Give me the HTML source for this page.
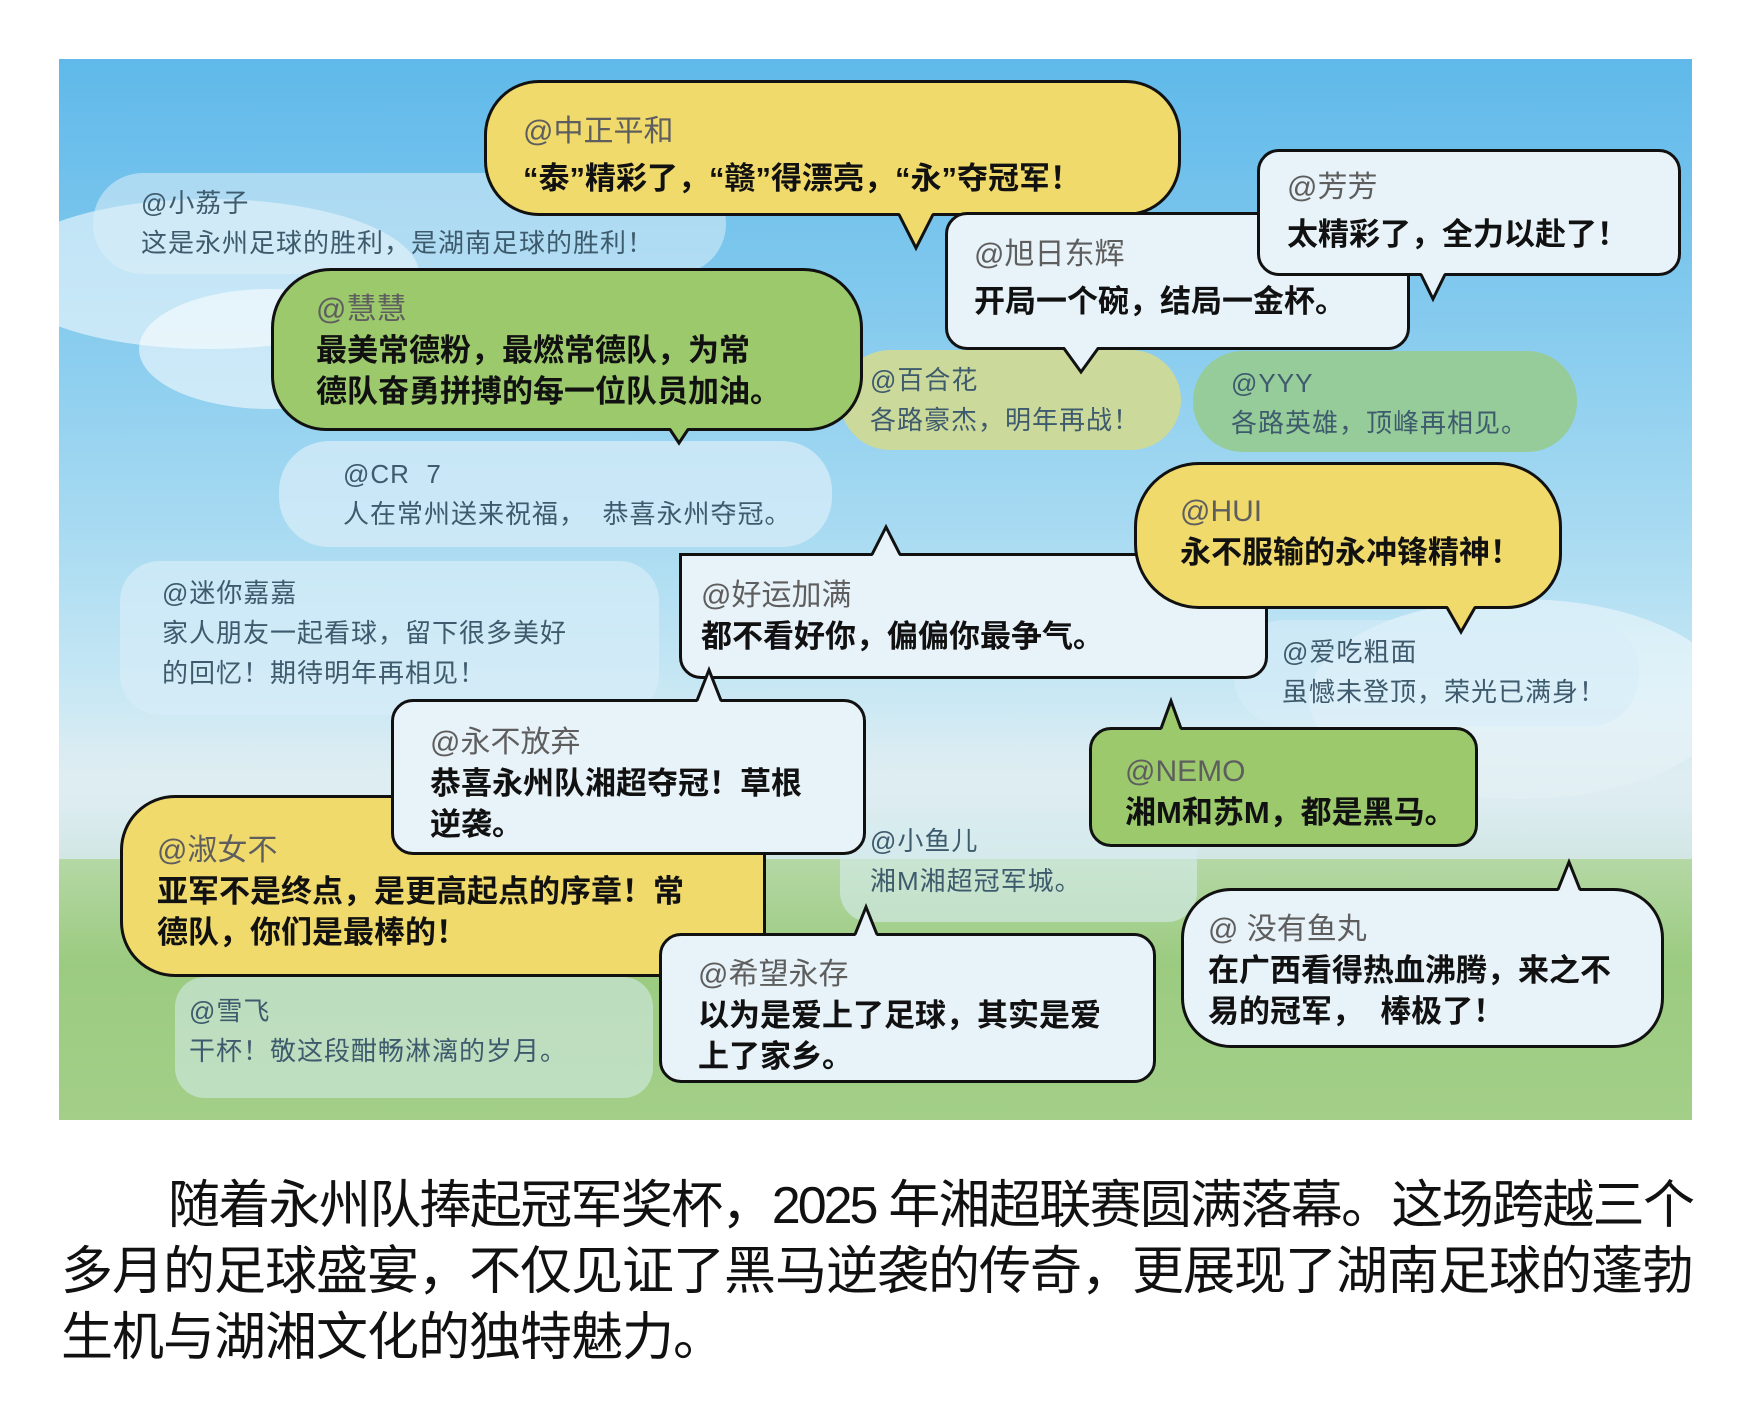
<!DOCTYPE html>
<html><head><meta charset="utf-8"><style>
*{margin:0;padding:0;box-sizing:border-box}
body{width:1748px;height:1417px;background:#fff;position:relative;overflow:hidden;font-family:"Liberation Sans","Noto Sans CJK SC",sans-serif}
#panel{position:absolute;left:59px;top:59px;width:1633px;height:1061px;overflow:hidden;
background:linear-gradient(180deg,#5fb9ea 0%,#86cbee 25%,#a9dbf2 45%,#c9e8f4 60%,#d6ebf1 70%,#bcdcc0 78%,#9ccb86 86%,#9ecb82 100%)}
.c{position:absolute;background:rgba(255,255,255,.55);border-radius:50%}
.b{position:absolute;border:3px solid #111;padding-left:26px;color:#111;font-size:31px;line-height:41px;letter-spacing:0px}
.b .n{color:#5e5e5e;font-size:30px;font-weight:normal}
.b.bd{font-weight:bold}
.y{background:#f1da6c}.g{background:#9bc96c}.w{background:#e8f3f9}
.f{position:absolute;padding-left:44px;color:#3e5b6d;font-size:26px;line-height:40px;letter-spacing:1px}
#para{position:absolute;left:61px;top:1173px;width:1631px;font-size:52px;line-height:66px;color:#111}
#para div{white-space:nowrap;text-align:justify;text-align-last:justify}
svg{position:absolute;left:0;top:0}
</style></head><body>
<div id="panel">
<div class="c" style="left:-60px;top:140px;width:420px;height:150px"></div>
<div class="c" style="left:80px;top:230px;width:260px;height:120px"></div>
<div class="c" style="left:1250px;top:540px;width:420px;height:200px;background:rgba(255,255,255,.45)"></div>
<div style="position:absolute;left:0;top:640px;width:1633px;height:200px;background:linear-gradient(180deg,rgba(230,240,245,.0),rgba(225,238,242,.8) 40%,rgba(210,230,235,.6));"></div>
<div style="position:absolute;left:0;top:800px;width:1633px;height:261px;background:linear-gradient(180deg,#b5d8a5,#9bcb80 40%,#a3cf88)"></div>
</div>

<div class="f" style="left:93px;top:173px;width:633px;height:101px;border-radius:50px;background:rgba(220,238,248,.55);padding-top:10px;padding-left:48px">@小荔子<br>这是永州足球的胜利，是湖南足球的胜利！</div>
<div class="f" style="left:840px;top:350px;width:341px;height:100px;border-radius:50px;background:#cbd99b;padding-top:10px;padding-left:30px">@百合花<br>各路豪杰，明年再战！</div>
<div class="f" style="left:1193px;top:351px;width:384px;height:101px;border-radius:50px;background:#95cc9a;padding-top:12px;padding-left:38px">@YYY<br>各路英雄，顶峰再相见。</div>
<div class="f" style="left:279px;top:441px;width:553px;height:106px;border-radius:50px;background:rgba(215,236,248,.75);padding-top:13px;padding-left:64px">@CR&nbsp;&nbsp;7<br>人在常州送来祝福，&nbsp;&nbsp;恭喜永州夺冠。</div>
<div class="f" style="left:120px;top:561px;width:539px;height:154px;border-radius:40px;background:rgba(215,236,248,.7);padding-top:12px;padding-left:42px">@迷你嘉嘉<br>家人朋友一起看球，留下很多美好<br>的回忆！期待明年再相见！</div>
<div class="f" style="left:1234px;top:620px;width:405px;height:106px;border-radius:50px;background:rgba(215,236,248,.6);padding-top:12px;padding-left:48px">@爱吃粗面<br>虽憾未登顶，荣光已满身！</div>
<div class="f" style="left:840px;top:821px;width:357px;height:101px;border-radius:30px;background:rgba(215,236,240,.6);padding-top:0px;padding-left:30px">@小鱼儿<br>湘M湘超冠军城。</div>
<div class="f" style="left:175px;top:977px;width:478px;height:121px;border-radius:30px;background:rgba(215,236,240,.55);padding-top:14px;padding-left:14px">@雪飞<br>干杯！敬这段酣畅淋漓的岁月。</div>

<div class="b bd y" style="left:484px;top:80px;width:697px;height:136px;border-radius:55px;padding-top:27px;padding-left:36px"><span class="n">@中正平和</span><br><span style="line-height:54px">“泰”精彩了，“赣”得漂亮，“永”夺冠军！</span></div>
<div class="b bd w" style="left:945px;top:212px;width:465px;height:138px;border-radius:22px 0 22px 22px;padding-top:18px"><span class="n">@旭日东辉</span><br><span style="line-height:54px">开局一个碗，结局一金杯。</span></div>
<div class="b bd w" style="left:1257px;top:149px;width:424px;height:127px;border-radius:22px;padding-top:14px;padding-left:27px"><span class="n">@芳芳</span><br><span style="line-height:54px">太精彩了，全力以赴了！</span></div>
<div class="b bd g" style="left:271px;top:268px;width:592px;height:163px;border-radius:60px 60px 55px 55px;padding-top:17px;padding-left:42px"><span class="n">@慧慧</span><br>最美常德粉，最燃常德队，为常<br>德队奋勇拼搏的每一位队员加油。</div>
<div class="b bd w" style="left:679px;top:553px;width:589px;height:126px;border-radius:0 0 22px 22px;padding-top:18px;padding-left:19px"><span class="n">@好运加满</span><br>都不看好你，偏偏你最争气。</div>
<div class="b bd y" style="left:1134px;top:462px;width:428px;height:147px;border-radius:65px 65px 55px 65px;padding-top:25px;padding-left:43px"><span class="n">@HUI</span><br>永不服输的永冲锋精神！</div>
<div class="b bd y" style="left:120px;top:795px;width:646px;height:182px;border-radius:55px 0 22px 55px;padding-top:31px;padding-left:34px"><span class="n">@淑女不</span><br>亚军不是终点，是更高起点的序章！常<br>德队，你们是最棒的！</div>
<div class="b bd w" style="left:391px;top:699px;width:475px;height:156px;border-radius:22px;padding-top:19px;padding-left:36px"><span class="n">@永不放弃</span><br>恭喜永州队湘超夺冠！草根<br>逆袭。</div>
<div class="b bd g" style="left:1089px;top:727px;width:389px;height:120px;border-radius:22px;padding-top:20px;padding-left:33px"><span class="n">@NEMO</span><br>湘M和苏M，都是黑马。</div>
<div class="b bd w" style="left:659px;top:933px;width:497px;height:150px;border-radius:22px;padding-top:17px;padding-left:36px"><span class="n">@希望永存</span><br>以为是爱上了足球，其实是爱<br>上了家乡。</div>
<div class="b bd w" style="left:1181px;top:888px;width:483px;height:160px;border-radius:50px;padding-top:17px;padding-left:24px"><span class="n">@&nbsp;没有鱼丸</span><br>在广西看得热血沸腾，来之不<br>易的冠军，&nbsp;&nbsp;棒极了！</div>

<svg width="1748" height="1417" viewBox="0 0 1748 1417">
<g stroke="#111" stroke-width="3" stroke-linejoin="miter">
<polygon points="899,212 933,212 916,248" fill="#f1da6c" stroke="none"/><polyline points="899,214.5 916,248 933,214.5" fill="none"/>
<polygon points="1064,346 1098,346 1081,372" fill="#e8f3f9" stroke="none"/><polyline points="1064,348.5 1081,372 1098,348.5" fill="none"/>
<polygon points="1421,272 1445,272 1433,299" fill="#e8f3f9" stroke="none"/><polyline points="1421,274.5 1433,299 1445,274.5" fill="none"/>
<polygon points="670,427 688,427 679,443" fill="#9bc96c" stroke="none"/><polyline points="670,429.5 679,443 688,429.5" fill="none"/>
<polygon points="1447,605 1475,605 1461,632" fill="#f1da6c" stroke="none"/><polyline points="1447,607.5 1461,632 1475,607.5" fill="none"/>
<polygon points="872,557 900,557 886,527" fill="#e8f3f9" stroke="none"/><polyline points="872,554.5 886,527 900,554.5" fill="none"/>
<polygon points="697,703 721,703 709,670" fill="#e8f3f9" stroke="none"/><polyline points="697,700.5 709,670 721,700.5" fill="none"/>
<polygon points="1161,731 1181,731 1171,701" fill="#9bc96c" stroke="none"/><polyline points="1161,728.5 1171,701 1181,728.5" fill="none"/>
<polygon points="855,937 877,937 866,907" fill="#e8f3f9" stroke="none"/><polyline points="855,934.5 866,907 877,934.5" fill="none"/>
<polygon points="1558,892 1580,892 1569,862" fill="#e8f3f9" stroke="none"/><polyline points="1558,889.5 1569,862 1580,889.5" fill="none"/>
</g>
</svg>

<div id="para">
<div style="padding-left:107px;letter-spacing:-3px">随着永州队捧起冠军奖杯，2025 年湘超联赛圆满落幕。这场跨越三个</div>
<div style="letter-spacing:-1px">多月的足球盛宴，不仅见证了黑马逆袭的传奇，更展现了湖南足球的蓬勃</div>
<div style="text-align-last:left;letter-spacing:-1px">生机与湖湘文化的独特魅力。</div>
</div>
</body></html>
